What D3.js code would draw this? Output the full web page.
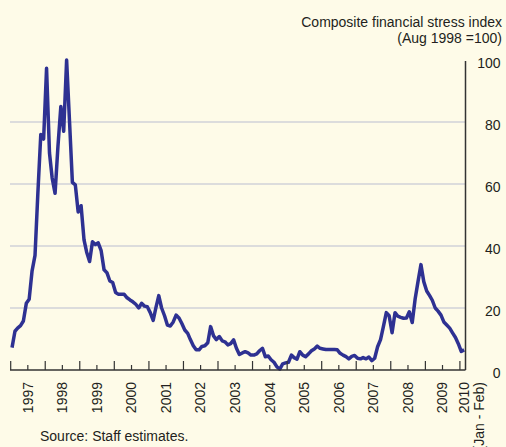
<!DOCTYPE html>
<html lang="en">
	<head>
		<meta charset="utf-8">
		<title>Composite financial stress index</title>
		<script src="https://d3js.org/d3.v7.min.js"></script>
		<style>
			body { margin: 0; background: #fefbe8; }
			text { font-family: "Liberation Sans", Arial, sans-serif; fill: #231f20; }
		</style>
	</head>
	<body>
		<script type="text/javascript">
			// window size setup
			var w = 506
			var h = 447

			// data: monthly index, Jan 1997 .. Feb 2010 (Aug 1998 = 100)
			var startYear = 1997
			var stress = [
				7.2, 12.5, 13.5, 14.3, 15.8, 21.5, 22.8, 32, 37, 57, 76, 74.5,		// 1997
				97.3, 70, 62, 57, 72, 85, 77, 100, 80, 60.5, 59.7, 51,			// 1998
				53, 42, 38, 35, 41.4, 40.5, 41, 38.5, 32.3, 31.4, 28.7, 28.2,		// 1999
				25, 24.4, 24.4, 24.4, 23.3, 22.6, 22, 21.2, 20, 21.5, 20.6, 20.4,	// 2000
				18.5, 16, 20, 24, 20, 17.5, 14.5, 14.2, 15.5, 17.7, 16.8, 15,		// 2001
				12.9, 11.8, 9.8, 7.8, 6.5, 6.5, 7.6, 7.8, 8.8, 14, 11, 9.8,		// 2002
				10.8, 9.4, 9.1, 8.1, 8.5, 9.7, 7, 5, 5.5, 5.9, 5.5, 4.8,			// 2003
				4.8, 5.2, 6.2, 7, 4.3, 4.5, 3.3, 2.5, 1, 0.3, 2, 2.3,			// 2004
				2.5, 4.8, 4, 3.5, 5.9, 4.8, 4.3, 5.2, 6.2, 6.8, 7.7, 7,			// 2005
				6.8, 6.6, 6.6, 6.6, 6.6, 6.5, 5.4, 4.8, 4.3, 3.6, 4.4, 4.7,		// 2006
				3.8, 3.6, 4, 3.6, 4.2, 3, 3.8, 7.5, 9.8, 14, 18.5, 17.5,			// 2007
				12, 18.5, 17.4, 17, 16.7, 16.8, 18.8, 15.3, 23, 28.5, 34, 28.5,		// 2008
				25.5, 24, 22.5, 20, 19, 17.7, 15.5, 14.5, 13.5, 12, 10.5, 8.5,		// 2009
				6, 6.5															// 2010 (Jan - Feb)
			]
			var yearLabels = ["1997", "1998", "1999", "2000", "2001", "2002", "2003",
							  "2004", "2005", "2006", "2007", "2008", "2009"]
			var yTicks = [0, 20, 40, 60, 80, 100]
			var gridValues = [20, 40, 60, 80]

			var dataSet = stress.map(function(v, i){
				return { date: new Date(startYear, i, 15), value: v }
			})

			// scale setup
			var xScale = d3.scaleTime()
							.domain([new Date(1997, 0, 1), new Date(2010, 2, 1)])
							.range([10.7, 465.5])
			var yScale = d3.scaleLinear()
							.domain([0, 100])
							.range([370, 60])

			// create SVG
			var svg = d3.select("body")
						.append("svg")
						.attr("width", w)
						.attr("height", h)

			svg.append("rect")
				.attr("width", w)
				.attr("height", h)
				.attr("fill", "#fefbe8")

			// gridlines
			svg.selectAll("line.grid")
				.data(gridValues)
				.enter()
				.append("line")
				.attr("class", "grid")
				.attr("x1", 10)
				.attr("x2", 465)
				.attr("y1", function(d){ return yScale(d) })
				.attr("y2", function(d){ return yScale(d) })
				.attr("stroke", "#dcdcdc")
				.attr("stroke-width", 2)

			// line
			var line = d3.line()
						.x(function(d){ return xScale(d.date) })
						.y(function(d){ return yScale(d.value) })

			svg.append("path")
				.datum(dataSet)
				.attr("d", line)
				.attr("fill", "none")
				.attr("stroke", "#2e3192")
				.attr("stroke-width", 3.5)
				.attr("stroke-linejoin", "round")

			// x axis: year ticks tall, mid-year ticks short
			var tickDates = d3.timeMonth.every(6).range(new Date(1997, 0, 1), new Date(2010, 1, 1))
			svg.selectAll("line.xtick")
				.data(tickDates)
				.enter()
				.append("line")
				.attr("class", "xtick")
				.attr("x1", function(d){ return xScale(d) })
				.attr("x2", function(d){ return xScale(d) })
				.attr("y1", 370)
				.attr("y2", function(d){ return d.getMonth() == 0 ? 361 : 365 })
				.attr("stroke", "#333")
				.attr("stroke-width", 1.2)

			svg.append("line")
				.attr("x1", 10)
				.attr("x2", 465.5)
				.attr("y1", 370)
				.attr("y2", 370)
				.attr("stroke", "#333")
				.attr("stroke-width", 1.5)

			// year labels
			svg.selectAll("text.year")
				.data(yearLabels)
				.enter()
				.append("text")
				.attr("class", "year")
				.attr("transform", function(d){
					return "translate(" + xScale(new Date(+d, 6, 1)) + ",382) rotate(-90)"
				})
				.attr("dy", "0.35em")
				.attr("text-anchor", "end")
				.attr("font-size", "14px")
				.text(function(d){ return d })

			var last = svg.append("text")
				.attr("transform", "translate(" + (xScale(new Date(2010, 1, 1)) + 1.5) + ",382) rotate(-90)")
				.attr("text-anchor", "end")
				.attr("font-size", "14px")
			last.append("tspan").attr("x", 0).attr("dy", "0.35em").text("2010")
			last.append("tspan").attr("x", 0).attr("dy", "1.08em").text("(Jan - Feb)")

			// right y axis
			var yAxis = d3.axisRight(yScale)
							.tickValues(yTicks)
							.tickSize(0)
			var gy = svg.append("g")
						.attr("transform", "translate(465.5,0)")
						.call(yAxis)
			gy.select(".domain")
				.attr("stroke", "#333")
				.attr("stroke-width", 1.5)
				.attr("d", "M0," + (yScale(100) + 1) + "V" + yScale(0))
			gy.selectAll("text")
				.attr("x", 35)
				.attr("dy", "0.55em")
				.attr("text-anchor", "end")
				.attr("font-size", "14px")
				.attr("font-family", null)
				.attr("fill", "#231f20")

			// title
			svg.append("text")
				.attr("x", 502)
				.attr("y", 27)
				.attr("text-anchor", "end")
				.attr("font-size", "14px")
				.text("Composite financial stress index")
			svg.append("text")
				.attr("x", 502)
				.attr("y", 43)
				.attr("text-anchor", "end")
				.attr("font-size", "14px")
				.text("(Aug 1998 =100)")

			// source
			svg.append("text")
				.attr("x", 40)
				.attr("y", 441)
				.attr("font-size", "14px")
				.text("Source: Staff estimates.")
		</script>
	</body>
</html>
